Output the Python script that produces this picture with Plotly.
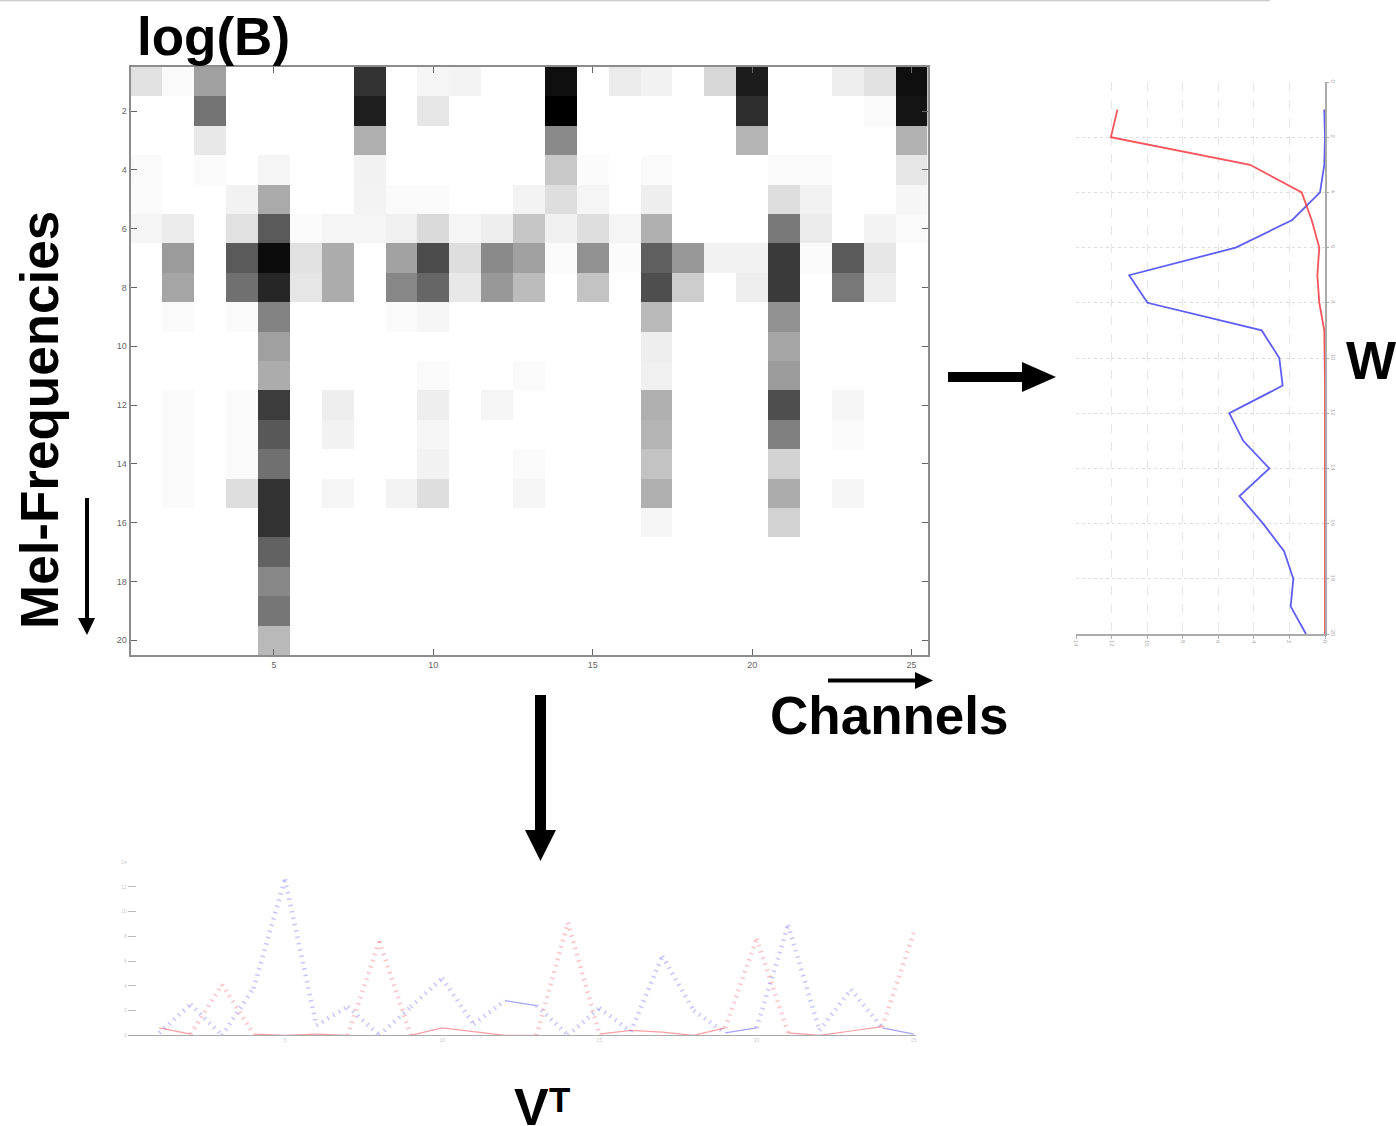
import plotly.graph_objects as go

W, H = 1396, 1126

# log(B): darkness of each cell, rows = mel-frequency 1..20, columns = channels 1..25
channels = list(range(1, 26))
mel_bands = list(range(1, 21))
log_b_01 = [30, 5, 95, 0, 0, 0, 0, 205, 0, 10, 12, 0, 0, 240, 0, 20, 13, 0, 40, 227, 0, 0, 17, 30, 240]
log_b_02 = [0, 0, 140, 0, 0, 0, 0, 225, 0, 25, 0, 0, 0, 255, 0, 0, 0, 0, 0, 210, 0, 0, 0, 5, 235]
log_b_03 = [0, 0, 23, 0, 0, 0, 0, 80, 0, 0, 0, 0, 0, 117, 0, 0, 0, 0, 0, 75, 0, 0, 0, 0, 77]
log_b_04 = [5, 0, 5, 0, 10, 0, 0, 13, 0, 0, 0, 0, 0, 55, 4, 0, 5, 0, 0, 0, 5, 5, 0, 0, 25]
log_b_05 = [4, 0, 0, 13, 85, 0, 0, 12, 5, 5, 0, 0, 12, 33, 10, 0, 17, 0, 0, 0, 33, 13, 0, 0, 9]
log_b_06 = [10, 20, 0, 30, 165, 5, 10, 10, 15, 37, 10, 17, 57, 15, 33, 10, 80, 0, 0, 0, 135, 20, 0, 12, 5]
log_b_07 = [0, 100, 0, 165, 243, 30, 83, 0, 93, 180, 33, 117, 95, 5, 110, 4, 160, 103, 13, 13, 197, 5, 165, 25, 0]
log_b_08 = [0, 90, 0, 143, 217, 25, 83, 0, 120, 153, 23, 103, 67, 0, 60, 0, 177, 50, 0, 17, 197, 0, 135, 17, 0]
log_b_09 = [0, 5, 0, 5, 125, 0, 0, 0, 5, 9, 0, 0, 0, 0, 0, 0, 70, 0, 0, 0, 110, 0, 0, 0, 0]
log_b_10 = [0, 0, 0, 0, 95, 0, 0, 0, 0, 0, 0, 0, 0, 0, 0, 0, 17, 0, 0, 0, 90, 0, 0, 0, 0]
log_b_11 = [0, 0, 0, 0, 83, 0, 0, 0, 0, 5, 0, 0, 5, 0, 0, 0, 15, 0, 0, 0, 100, 0, 0, 0, 0]
log_b_12 = [0, 5, 0, 5, 195, 0, 17, 0, 0, 17, 0, 10, 0, 0, 0, 0, 80, 0, 0, 0, 177, 0, 9, 0, 0]
log_b_13 = [0, 5, 0, 5, 167, 0, 13, 0, 0, 10, 0, 0, 0, 0, 0, 0, 75, 0, 0, 0, 127, 0, 5, 0, 0]
log_b_14 = [0, 5, 0, 5, 143, 0, 0, 0, 0, 13, 0, 0, 5, 0, 0, 0, 60, 0, 0, 0, 45, 0, 0, 0, 0]
log_b_15 = [0, 5, 0, 33, 205, 0, 10, 0, 12, 33, 0, 0, 10, 0, 0, 0, 80, 0, 0, 0, 83, 0, 10, 0, 0]
log_b_16 = [0, 0, 0, 0, 205, 0, 0, 0, 0, 0, 0, 0, 0, 0, 0, 0, 10, 0, 0, 0, 45, 0, 0, 0, 0]
log_b_17 = [0, 0, 0, 0, 157, 0, 0, 0, 0, 0, 0, 0, 0, 0, 0, 0, 0, 0, 0, 0, 0, 0, 0, 0, 0]
log_b_18 = [0, 0, 0, 0, 120, 0, 0, 0, 0, 0, 0, 0, 0, 0, 0, 0, 0, 0, 0, 0, 0, 0, 0, 0, 0]
log_b_19 = [0, 0, 0, 0, 137, 0, 0, 0, 0, 0, 0, 0, 0, 0, 0, 0, 0, 0, 0, 0, 0, 0, 0, 0, 0]
log_b_20 = [0, 0, 0, 0, 70, 0, 0, 0, 0, 0, 0, 0, 0, 0, 0, 0, 0, 0, 0, 0, 0, 0, 0, 0, 0]
log_b = [log_b_01, log_b_02, log_b_03, log_b_04, log_b_05, log_b_06, log_b_07, log_b_08, log_b_09, log_b_10,
         log_b_11, log_b_12, log_b_13, log_b_14, log_b_15, log_b_16, log_b_17, log_b_18, log_b_19, log_b_20]

# W: basis vectors against mel-frequency
w_red = [11.67, 12.04, 4.21, 1.31, 0.75, 0.32, 0.43, 0.32, 0.04, 0, 0, 0, 0, 0, 0, 0, 0, 0, 0, 0]
w_blue = [0.04, 0.0, 0.04, 0.28, 1.84, 5.02, 11.01, 9.98, 3.56, 2.57, 2.38, 5.38, 4.6, 3.13, 4.81, 3.48, 2.3, 1.78, 1.93, 1.07]

# V^T: activations against channel
v_blue = [0.2, 2.5, 0.0, 3.8, 12.6, 0.8, 2.3, 0.0, 2.3, 4.6, 0.9, 2.8, 2.4, 0.0, 2.2, 0.3, 6.4, 2.0, 0.2, 0.6, 8.9, 0.4, 3.7, 0.6, 0.1]
v_red = [0.6, 0.1, 4.1, 0.1, 0.0, 0.1, 0.0, 7.6, 0.0, 0.6, 0.3, 0.0, 0.0, 9.1, 0.1, 0.4, 0.25, 0.0, 0.6, 7.8, 0.2, 0.0, 0.35, 0.7, 8.3]

x_ticks = [5, 10, 15, 20, 25]
y_ticks = list(range(2, 21, 2))
w_x_ticks = [14, 12, 10, 8, 6, 4, 2, 0]
w_y_ticks = list(range(0, 21, 2))
v_y_ticks = list(range(0, 15, 2))


def dom_x(a, b):
    return [a / W, b / W]


def dom_y(top, bottom):
    return [1 - bottom / H, 1 - top / H]


fig = go.Figure()

fig.add_trace(go.Heatmap(x=channels, y=mel_bands, z=log_b, showscale=False, zmin=0, zmax=255,
                         colorscale=[[0, "#ffffff"], [1, "#000000"]], xaxis="x", yaxis="y"))

fig.add_trace(go.Scatter(x=w_blue, y=mel_bands, mode="lines", line=dict(color="rgba(40,40,240,0.75)", width=1.8),
                         xaxis="x2", yaxis="y2"))
fig.add_trace(go.Scatter(x=w_red, y=mel_bands, mode="lines", line=dict(color="rgba(245,40,50,0.8)", width=1.8),
                         xaxis="x2", yaxis="y2"))


def add_v(values, rgb):
    # steep segments photograph as broken dashes, nearly flat ones as solid lines
    steep_x, steep_y, flat_x, flat_y = [], [], [], []
    for i in range(len(values) - 1):
        pair_x, pair_y = channels[i:i + 2], values[i:i + 2]
        if abs(values[i + 1] - values[i]) > 1.0:
            steep_x += pair_x + [None]
            steep_y += pair_y + [None]
        else:
            flat_x += pair_x + [None]
            flat_y += pair_y + [None]
    fig.add_trace(go.Scatter(x=steep_x, y=steep_y, mode="lines", connectgaps=False,
                             line=dict(color=f"rgba({rgb},0.28)", width=4.5, dash="1.5px,5px"),
                             xaxis="x3", yaxis="y3"))
    fig.add_trace(go.Scatter(x=flat_x, y=flat_y, mode="lines", connectgaps=False,
                             line=dict(color=f"rgba({rgb},0.45)", width=1.2),
                             xaxis="x3", yaxis="y3"))


add_v(v_blue, "50,50,245")
add_v(v_red, "245,40,50")

FONT = "Liberation Sans, Arial, sans-serif"
frame = "#8c8c8c"

layout = dict(
    width=W, height=H, margin=dict(l=0, r=0, t=0, b=0, autoexpand=False), showlegend=False,
    paper_bgcolor="white", plot_bgcolor="white", font=dict(family=FONT),
    xaxis=dict(domain=dom_x(130.5, 927.5), range=[0.5, 25.5], tickvals=x_ticks, ticks="inside", ticklen=6,
               tickcolor="#666", tickfont=dict(size=9, color="#666"), showline=True, linecolor=frame,
               linewidth=2, mirror="allticks", showgrid=False, zeroline=False, anchor="y", automargin=False),
    yaxis=dict(domain=dom_y(67, 655), range=[20.5, 0.5], tickvals=y_ticks, ticks="inside", ticklen=6,
               tickcolor="#666", tickfont=dict(size=9, color="#666"), showline=True, linecolor=frame,
               linewidth=2, mirror="allticks", showgrid=False, zeroline=False, anchor="x", automargin=False),
    xaxis2=dict(domain=dom_x(1076, 1325), range=[14, 0], tickvals=w_x_ticks, ticks="outside", ticklen=3,
                tickcolor="#aaa", tickangle=90, tickfont=dict(size=6, color="#aaa"), showline=True,
                linecolor="#aaa", linewidth=1.5, showgrid=True, gridcolor="#e6e6e6", griddash="dash",
                zeroline=False, anchor="y2", automargin=False),
    yaxis2=dict(domain=dom_y(82, 634), range=[20, 0], tickvals=w_y_ticks, side="right", ticks="outside",
                ticklen=2, tickcolor="#aaa", tickangle=90, tickfont=dict(size=6, color="#aaa"), showline=True,
                linecolor="#aaa", linewidth=1.5, showgrid=True, gridcolor="#dedede", griddash="dot",
                zeroline=False, anchor="x2", automargin=False),
    xaxis3=dict(domain=dom_x(127.75, 916), range=[0, 25.07], tickvals=x_ticks, ticks="", tickfont=dict(size=5, color="#ccc"),
                showline=True, linecolor="#aaa", linewidth=1, showgrid=False, zeroline=False, anchor="y3",
                automargin=False),
    yaxis3=dict(domain=dom_y(862, 1035.3), range=[0, 14], tickvals=v_y_ticks, ticks="inside", ticklen=8,
                tickcolor="#bbb", tickfont=dict(size=5, color="#ccc"), showline=False, showgrid=False,
                zeroline=False, anchor="x3", automargin=False),
)


def label(text, x, y, size=53, angle=0, xanchor="left"):
    return dict(text=text, xref="paper", yref="paper", x=x / W, y=1 - y / H, showarrow=False, textangle=angle,
                xanchor=xanchor, yanchor="middle", font=dict(family=FONT, size=size, color="black"))


layout["annotations"] = [
    label("<b>log(B)</b>", 134.5, 36.5),
    label("<b>Channels</b>", 768, 716),
    label("<b>Mel-Frequencies</b>", 39, 420, angle=-90, xanchor="center"),
    label("<b>W</b>", 1344, 360),
    label("<b>V</b>", 512, 1106.5, size=52),
    label("<b>T</b>", 547, 1099.5, size=35),
]


def polygon(points):
    path = "M " + " L ".join(f"{x / W:.5f},{1 - y / H:.5f}" for x, y in points) + " Z"
    return dict(type="path", xref="paper", yref="paper", path=path, fillcolor="black", line=dict(width=0))


layout["shapes"] = [
    polygon([(948, 372), (1022, 372), (1022, 362), (1056, 377), (1022, 392), (1022, 382), (948, 382)]),
    polygon([(535, 695), (546, 695), (546, 830), (556, 830), (540.5, 861), (525, 830), (535, 830)]),
    polygon([(85, 498), (89, 498), (89, 618), (95, 618), (87, 635), (78, 618), (85, 618)]),
    polygon([(828, 678.5), (915, 678.5), (915, 672), (933, 680.5), (915, 689), (915, 682.5), (828, 682.5)]),
    dict(type="line", xref="paper", yref="paper", x0=0, x1=1270 / W, y0=1 - 0.5 / H, y1=1 - 0.5 / H,
         line=dict(color="#cccccc", width=1.5)),
]

fig.update_layout(**layout)
fig.write_html("out.html", config=dict(displayModeBar=False),
               post_script="document.body.style.margin='0';document.body.style.overflow='hidden';")
